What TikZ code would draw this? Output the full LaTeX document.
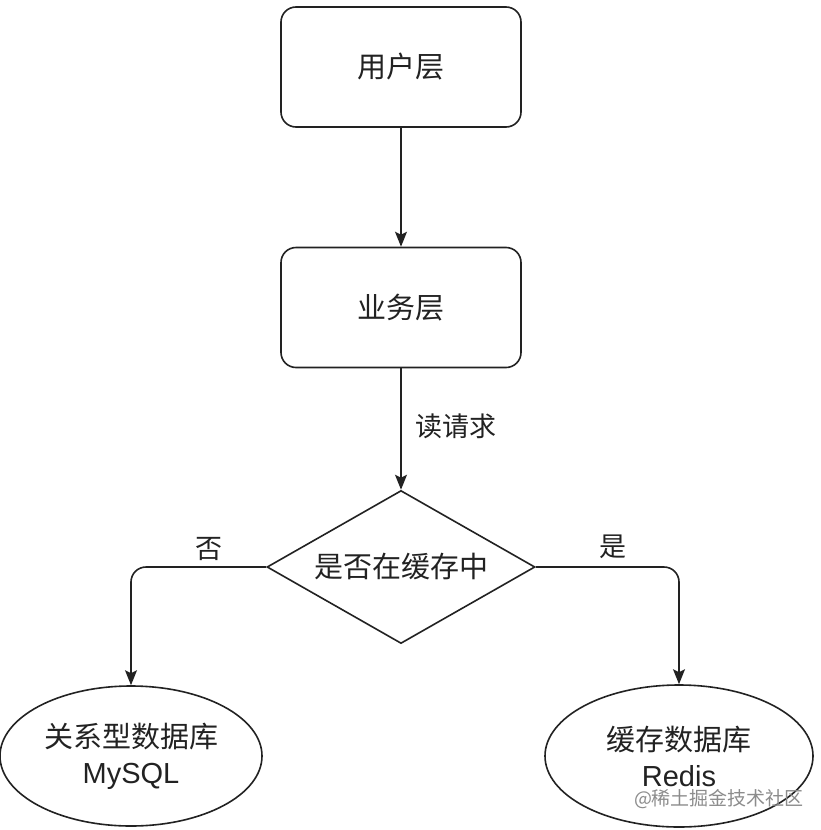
\documentclass[tikz,border=0pt]{standalone}
\usepackage{fontspec}
\setmainfont{Liberation Sans}
\newfontfamily\cjk{Noto Sans CJK SC}
\usetikzlibrary{shapes.geometric,arrows.meta}
\definecolor{ink}{HTML}{222222}
\tikzset{
  base/.style={draw=ink, line width=1.6pt, text=ink, inner sep=0pt, align=center,
    font=\fontsize{29}{36}\selectfont},
  box/.style={base, rectangle, rounded corners=15pt, minimum width=240pt, minimum height=120pt},
  dia/.style={base, diamond, aspect=1.75, minimum width=268pt, minimum height=153pt},
  ell/.style={base, ellipse},
  arr/.style={draw=ink, line width=1.6pt, -{Stealth[length=15pt,width=12pt,inset=3pt]}},
  lbl/.style={text=ink, font=\cjk\fontsize{27}{30}\selectfont, inner sep=2pt},
  wmark/.style={text=black!45, font=\cjk\fontsize{19}{22}\selectfont, inner sep=0pt}
}
\begin{document}
\begin{tikzpicture}[x=1pt,y=-1pt]
\useasboundingbox[fill=white] (0,0) rectangle (820,830);
\node[box] (user) at (401,67) {\cjk 用户层};
\node[box] (biz) at (401,307.5) {\cjk 业务层};
\node[dia] (q) at (401,567) {\cjk 是否在缓存中};
\node[ell, minimum width=262pt, minimum height=140pt] (mysql) at (131,756) {{\cjk 关系型数据库}\\MySQL};
\node[ell, minimum width=268pt, minimum height=142pt] (redis) at (679,756) {{\cjk 缓存数据库}\\Redis};
\draw[arr] (user) -- (biz);
\draw[arr] (biz) -- (q) node[lbl, midway, right, xshift=12pt, yshift=3pt] (rd) {读请求};
\draw[arr, rounded corners=15pt] (q.west) -| (mysql.north) node[lbl, pos=0.21, above, yshift=4pt] (no) {否};
\draw[arr, rounded corners=15pt] (q.east) -| (redis.north) node[lbl, pos=0.27, above, yshift=6pt] (yes) {是};
\node[wmark] (wm) at (719,799) {@稀土掘金技术社区};
\end{tikzpicture}
\end{document}
